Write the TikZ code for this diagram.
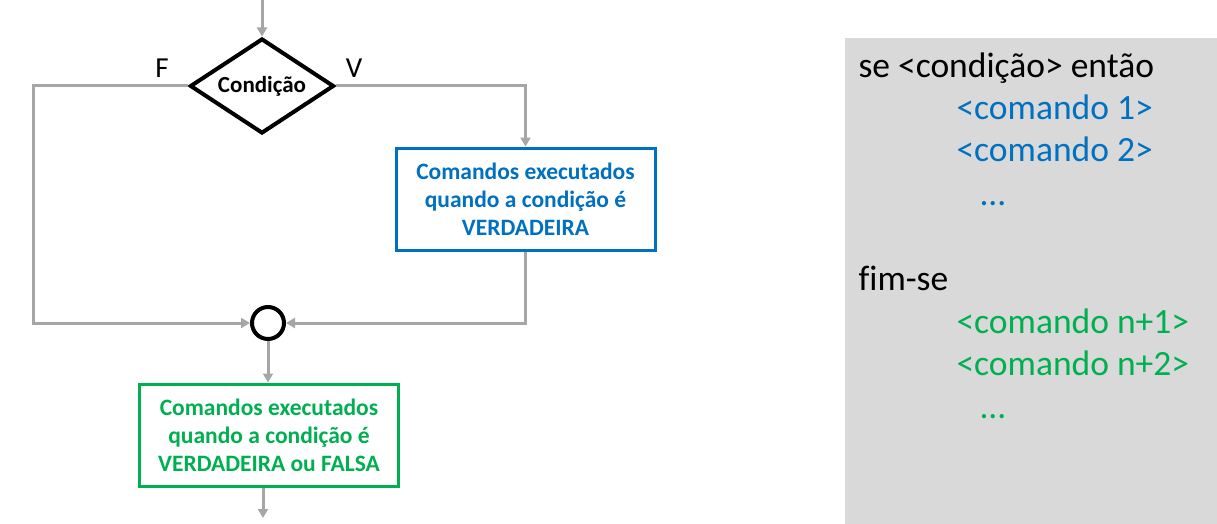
\documentclass[tikz,border=0pt]{standalone}
\usepackage{fontspec}
\setmainfont{Carlito}[Ligatures=NoCommon]
\usetikzlibrary{shapes.geometric, arrows.meta, positioning}

\definecolor{azul}{RGB}{0,112,192}
\definecolor{verde}{RGB}{0,176,80}
\definecolor{seta}{RGB}{166,166,166}
\definecolor{painel}{RGB}{217,217,217}

\tikzset{
    fluxo/.style={draw=seta, line width=3pt, -{Triangle[length=9pt, width=10pt]}},
    bloco/.style={draw, line width=3pt, fill=white, minimum width=259pt, minimum height=102pt,
        align=center, font=\fontsize{23.5}{28}\selectfont\bfseries},
    linha/.style={anchor=base west, font=\fontsize{35.5}{40}\selectfont}
}

\begin{document}
\begin{tikzpicture}[x=1pt, y=-1pt]

    % the frame
    \useasboundingbox (0,0) rectangle (1217,524);

    % the panel
    \fill[painel] (845,38) rectangle (1217,524);
    \node[linha] (se) at (855,78) {se <condição> então};
    \node[linha, text=azul] (c1) at (953,120) {<comando 1>};
    \node[linha, text=azul] (c2) at (953,161) {<comando 2>};
    \node[linha, text=azul] (d1) at (976,205) {...};
    \node[linha] (fimse) at (855,290) {fim-se};
    \node[linha, text=verde] (c3) at (953,333) {<comando n+1>};
    \node[linha, text=verde] (c4) at (953,375) {<comando n+2>};
    \node[linha, text=verde] (d2) at (976,418) {...};

    % the flow
    \coordinate (topo) at (262,0);
    \coordinate (cantoE) at (33,323);
    \coordinate (fim) at (263,518);

    \node[draw, diamond, line width=4pt, minimum width=144pt, minimum height=95pt, inner sep=0pt,
        label={[font=\fontsize{23}{26}\selectfont\bfseries]center:Condição}] (cond) at (262,86) {};
    \node[font=\fontsize{29}{32}\selectfont] (F) at (162,68) {F};
    \node[font=\fontsize{29}{32}\selectfont] (V) at (354,68) {V};

    \node[bloco, draw=azul, text=azul] (verd) at (525.5,199) {Comandos executados\\quando a condição é\\VERDADEIRA};
    \node[draw, circle, line width=4pt, minimum size=32pt, inner sep=0pt] (junta) at (268,323) {};
    \node[bloco, draw=verde, text=verde] (ambos) at (269,435) {Comandos executados\\quando a condição é\\VERDADEIRA ou FALSA};

    \draw[fluxo] (topo) -- (cond.north);
    \draw[fluxo] (cond.west) -| (cantoE) -- (junta.west);
    \draw[fluxo] (cond.east) -| (verd.north);
    \draw[fluxo] (verd.south) |- (junta.east);
    \draw[fluxo] (junta.south) -- (ambos.north -| junta.south);
    \draw[fluxo] (ambos.south -| fim) -- (fim);

\end{tikzpicture}
\end{document}
